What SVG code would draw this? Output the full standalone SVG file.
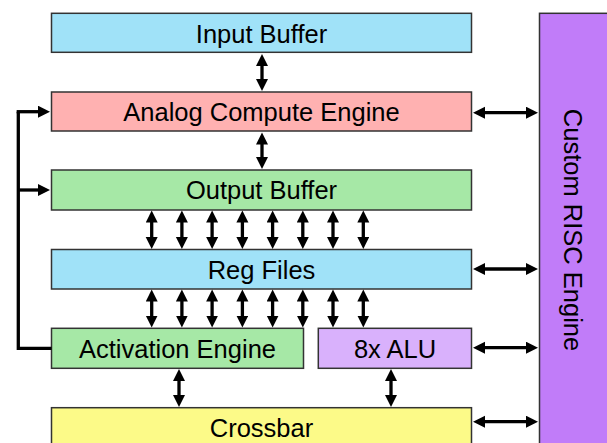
<svg xmlns="http://www.w3.org/2000/svg" width="607" height="443" viewBox="0 0 607 443">
<style>
.box{stroke:#333;stroke-width:1.5}
.lbl{font-family:"Liberation Sans",Arial,sans-serif;font-size:25.5px;fill:#000;text-anchor:middle}
.con{stroke:#000;stroke-width:3.3;fill:none;marker-start:url(#ah);marker-end:url(#ah)}
.one{stroke:#000;stroke-width:3.3;fill:none;marker-end:url(#ah)}
.loop{stroke:#000;stroke-width:3.3;fill:none;stroke-linejoin:miter}
</style>
<defs>
<marker id="ah" markerUnits="userSpaceOnUse" markerWidth="13" markerHeight="13" refX="7" refY="6" orient="auto-start-reverse">
<path d="M0,0 L12,6 L0,12 z" fill="#000"/>
</marker>
</defs>
<rect width="607" height="443" fill="#fff"/>
<g id="risc">
<rect class="box" x="539.5" y="13.3" width="72" height="440" fill="#c17cf9"/>
<text class="lbl" transform="translate(573.5,230) rotate(90)" x="0" y="9.2">Custom RISC Engine</text>
</g>
<g id="input-buffer">
<rect class="box" x="51.5" y="13.3" width="420" height="39" fill="#a0e2f8"/>
<text class="lbl" x="261.5" y="42.5">Input Buffer</text>
</g>
<g id="ace">
<rect class="box" x="51.5" y="92" width="420" height="39" fill="#ffb1b1"/>
<text class="lbl" x="261.5" y="120.7">Analog Compute Engine</text>
</g>
<g id="output-buffer">
<rect class="box" x="51.5" y="170" width="420" height="40" fill="#a6e8a6"/>
<text class="lbl" x="261.5" y="199.2">Output Buffer</text>
</g>
<g id="reg-files">
<rect class="box" x="51.5" y="249.5" width="420" height="39.5" fill="#a0e2f8"/>
<text class="lbl" x="261.5" y="278.7">Reg Files</text>
</g>
<g id="activation">
<rect class="box" x="51.5" y="328.3" width="252" height="40" fill="#a6e8a6"/>
<text class="lbl" x="177.5" y="357.5">Activation Engine</text>
</g>
<g id="alu">
<rect class="box" x="318.3" y="328.3" width="153.2" height="40" fill="#d9b1fc"/>
<text class="lbl" x="395" y="357.5">8x ALU</text>
</g>
<g id="crossbar">
<rect class="box" x="51.5" y="407.7" width="420" height="45" fill="#fcfa88"/>
<text class="lbl" x="261.5" y="437.2">Crossbar</text>
</g>
<g id="connectors">
<line class="con" x1="262" y1="59" x2="262" y2="86"/>
<line class="con" x1="262" y1="137.5" x2="262" y2="164"/>
<line class="con" x1="151.7" y1="215.5" x2="151.7" y2="244"/>
<line class="con" x1="181.9" y1="215.5" x2="181.9" y2="244"/>
<line class="con" x1="212.1" y1="215.5" x2="212.1" y2="244"/>
<line class="con" x1="242.4" y1="215.5" x2="242.4" y2="244"/>
<line class="con" x1="272.6" y1="215.5" x2="272.6" y2="244"/>
<line class="con" x1="302.8" y1="215.5" x2="302.8" y2="244"/>
<line class="con" x1="333" y1="215.5" x2="333" y2="244"/>
<line class="con" x1="363.3" y1="215.5" x2="363.3" y2="244"/>
<line class="con" x1="151.7" y1="294.5" x2="151.7" y2="322.5"/>
<line class="con" x1="181.9" y1="294.5" x2="181.9" y2="322.5"/>
<line class="con" x1="212.1" y1="294.5" x2="212.1" y2="322.5"/>
<line class="con" x1="242.4" y1="294.5" x2="242.4" y2="322.5"/>
<line class="con" x1="272.6" y1="294.5" x2="272.6" y2="322.5"/>
<line class="con" x1="302.8" y1="294.5" x2="302.8" y2="322.5"/>
<line class="con" x1="333" y1="294.5" x2="333" y2="322.5"/>
<line class="con" x1="363.3" y1="294.5" x2="363.3" y2="322.5"/>
<line class="con" x1="179" y1="374" x2="179" y2="402"/>
<line class="con" x1="391" y1="374" x2="391" y2="402"/>
<line class="con" x1="478" y1="112.7" x2="533" y2="112.7"/>
<line class="con" x1="478" y1="269" x2="533" y2="269"/>
<line class="con" x1="478" y1="347.7" x2="533" y2="347.7"/>
<line class="con" x1="478" y1="421.7" x2="533" y2="421.7"/>
<path class="loop" d="M51.5,348.3 H18.3 V111.7"/>
<path class="one" d="M16.65,111.7 H45"/>
<path class="one" d="M18.3,190 H45"/>
</g>
</svg>
